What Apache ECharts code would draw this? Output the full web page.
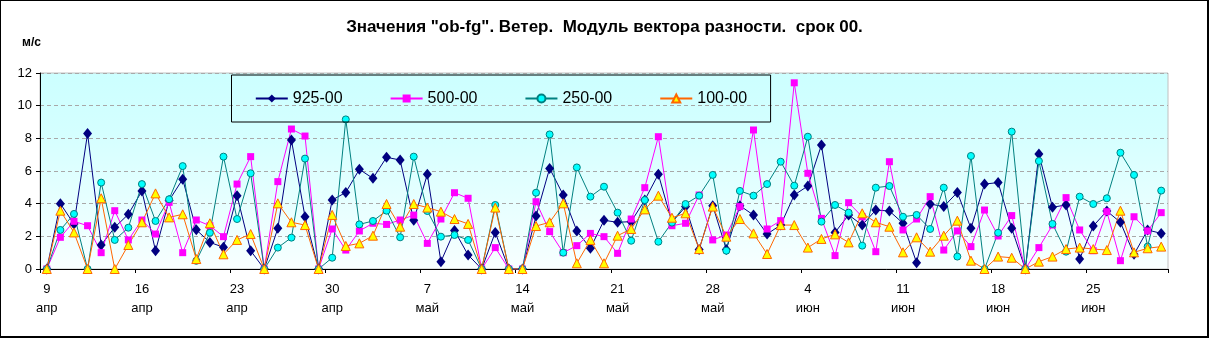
<!DOCTYPE html>
<html>
<head>
<meta charset="utf-8">
<script src="https://cdn.jsdelivr.net/npm/echarts@6/dist/echarts.min.js"></script>
<style>
  html, body { margin: 0; padding: 0; background: #fff; }
  #wrap { position: relative; width: 1209px; height: 338px; }
  #chart { width: 1209px; height: 338px; }
  #frame { position: absolute; left: 0; top: 0; width: 1209px; height: 338px; box-sizing: border-box;
           border-left: 1px solid #000; border-top: 1px solid #000; border-right: 2px solid #000; border-bottom: 2px solid #000;
           pointer-events: none; }
</style>
</head>
<body>
<div id="wrap"><div id="chart"></div><div id="frame"></div></div>
<script>
const titleText = 'Значения "ob-fg". Ветер.  Модуль вектора разности.  срок 00.';
const unitLabel = 'м/с';
const seriesNames = ['925-00', '500-00', '250-00', '100-00'];

const categories = [
  '9 апр','10 апр','11 апр','12 апр','13 апр','14 апр','15 апр','16 апр','17 апр','18 апр','19 апр',
  '20 апр','21 апр','22 апр','23 апр','24 апр','25 апр','26 апр','27 апр','28 апр','29 апр','30 апр',
  '1 май','2 май','3 май','4 май','5 май','6 май','7 май','8 май','9 май','10 май','11 май','12 май',
  '13 май','14 май','15 май','16 май','17 май','18 май','19 май','20 май','21 май','22 май','23 май',
  '24 май','25 май','26 май','27 май','28 май','29 май','30 май','31 май',
  '1 июн','2 июн','3 июн','4 июн','5 июн','6 июн','7 июн','8 июн','9 июн','10 июн','11 июн','12 июн',
  '13 июн','14 июн','15 июн','16 июн','17 июн','18 июн','19 июн','20 июн','21 июн','22 июн','23 июн',
  '24 июн','25 июн','26 июн','27 июн','28 июн','29 июн','30 июн'
];

const yTicks = [0, 2, 4, 6, 8, 10, 12];

const v925 = [
  0, 4.0, 2.75, 8.3, 1.47, 2.55, 3.35, 4.78, 1.12, 4.2, 5.5, 2.4, 1.63, 1.33,
  4.49, 1.12, 0, 2.49, 7.9, 3.2, 0, 4.22, 4.69, 6.1, 5.55, 6.84, 6.67, 2.98,
  5.8, 0.45, 2.35, 0.86, 0, 2.24, 0, 0, 3.24, 6.16, 4.53, 2.33, 1.27, 2.98,
  2.86, 2.9, 4.22, 5.8, 2.86, 3.82, 1.2, 3.88, 1.2, 3.88, 3.3, 2.14, 2.69, 4.53,
  5.08, 7.59, 2.24, 3.31, 2.69, 3.61, 3.55, 2.8, 0.39, 3.98, 3.82, 4.69, 2.49, 5.2,
  5.29, 2.49, 0, 7.04, 3.78, 3.92, 0.61, 2.63, 3.55, 2.86, 0.9, 2.39, 2.18
];
const v500 = [
  0, 1.94, 2.92, 2.65, 1.0, 3.57, 1.78, 3.0, 2.14, 4.08, 1.0, 3.0, 2.65, 1.98,
  5.2, 6.88, 0, 5.35, 8.57, 8.14, 0, 2.45, 1.16, 2.33, 2.8, 2.73, 3.0, 3.3,
  1.57, 3.06, 4.67, 4.33, 0, 1.31, 0, 0, 4.12, 2.29, 1.0, 1.43, 2.18, 1.98,
  0.96, 3.06, 4.98, 8.1, 2.65, 2.8, 4.53, 1.78, 2.08, 3.82, 8.51, 2.45, 2.96, 11.4,
  5.86, 3.1, 0.82, 4.06, 3.2, 1.06, 6.57, 2.39, 3.06, 4.43, 1.16, 2.33, 1.37, 3.61,
  2.02, 3.27, 0, 1.31, 2.69, 4.37, 2.39, 1.12, 3.51, 0.51, 3.2, 2.33, 3.45
];
const v250 = [
  0, 2.39, 3.37, 0, 5.29, 1.78, 2.53, 5.2, 2.94, 4.27, 6.3, 0.5, 2.22, 6.88,
  3.06, 5.86, 0, 1.31, 1.92, 6.76, 0, 0.69, 9.16, 2.73, 2.94, 3.57, 1.94, 6.88,
  3.55, 1.98, 2.08, 1.78, 0, 3.92, 0, 0, 4.67, 8.24, 1.0, 6.22, 4.43, 5.04,
  3.45, 1.73, 4.22, 1.67, 2.84, 3.98, 4.49, 5.76, 1.12, 4.78, 4.49, 5.2, 6.57, 5.1,
  8.1, 2.9, 3.92, 3.45, 1.43, 4.98, 5.08, 3.2, 3.31, 2.45, 4.98, 0.76, 6.92, 0,
  2.22, 8.41, 0, 6.61, 2.76, 1.06, 4.43, 3.98, 4.33, 7.12, 5.76, 1.37, 4.8
];
const v100 = [
  0, 3.57, 2.24, 0, 4.33, 0, 1.47, 2.86, 4.63, 3.16, 3.35, 0.61, 2.8, 0.9,
  1.78, 2.14, 0, 4.02, 2.86, 2.69, 0, 3.31, 1.41, 1.57, 2.04, 3.98, 2.59, 3.98,
  3.76, 3.51, 3.06, 2.76, 0, 3.76, 0, 0, 2.63, 2.86, 4.02, 0.35, 1.78, 0.35,
  2.04, 2.45, 3.65, 4.49, 3.14, 3.41, 1.22, 3.82, 1.98, 3.06, 2.18, 0.92, 2.69, 2.69,
  1.31, 1.84, 2.12, 1.63, 3.41, 2.86, 2.59, 1.02, 1.94, 1.06, 2.04, 2.96, 0.51, 0,
  0.76, 0.69, 0, 0.45, 0.76, 1.22, 1.31, 1.22, 1.16, 3.57, 1.02, 1.27, 1.37
];

const FONT = "'Liberation Sans', Arial, sans-serif";
const chart = echarts.init(document.getElementById('chart'), null, { renderer: 'canvas' });

function lineSeries(name, data, lineColor, symbol, size, fill, border) {
  return {
    name: name, type: 'line', data: data,
    symbol: symbol, symbolSize: size, showAllSymbol: true,
    lineStyle: { color: lineColor, width: 1 },
    itemStyle: { color: fill, borderColor: border, borderWidth: border ? 1 : 0 },
    emphasis: { disabled: true },
    animation: false
  };
}

chart.setOption({
  animation: false,
  backgroundColor: '#ffffff',
  title: {
    text: titleText, left: 'center', top: 19, padding: 0,
    textStyle: { fontFamily: FONT, fontSize: 17, fontWeight: 'bold', color: '#000' }
  },
  graphic: [{
    type: 'text', left: 22, top: 37,
    style: { text: unitLabel, font: "bold 12px 'Liberation Sans', Arial, sans-serif", fill: '#000' }
  }],
  legend: {
    data: seriesNames,
    left: 231.5, top: 75,
    padding: [15.5, 23.5, 15.5, 23.3],
    borderColor: '#000', borderWidth: 1,
    itemWidth: 32, itemHeight: 10, itemGap: 47,
    textStyle: { fontFamily: FONT, fontSize: 16, color: '#000', lineHeight: 16 }
  },
  grid: {
    left: 40, right: 41, top: 73, bottom: 69,
    show: true, borderColor: '#c0c0c0', borderWidth: 1,
    backgroundColor: new echarts.graphic.LinearGradient(0, 0, 0, 1, [
      { offset: 0, color: '#ccffff' },
      { offset: 0.3, color: '#d4ffff' },
      { offset: 1, color: '#f8ffff' }
    ])
  },
  xAxis: {
    type: 'category', data: categories, boundaryGap: true,
    axisLine: { lineStyle: { color: '#000', width: 1 } },
    axisTick: { show: true, interval: 6, length: 4, lineStyle: { color: '#000' } },
    axisLabel: {
      interval: 6, margin: 11, color: '#000', fontFamily: FONT, fontSize: 13, lineHeight: 19,
      formatter: function (v) { return v.split(' ').join('\n'); }
    },
    splitLine: { show: false }
  },
  yAxis: {
    type: 'value', min: yTicks[0], max: yTicks[yTicks.length - 1], interval: 2,
    axisLine: { show: true, lineStyle: { color: '#000', width: 1 } },
    axisTick: { show: true, length: 4, lineStyle: { color: '#000' } },
    axisLabel: { margin: 8, color: '#000', fontFamily: FONT, fontSize: 13 },
    splitLine: { show: true, lineStyle: { color: '#a8a8a8', type: [4, 3], width: 1 } }
  },
  series: [
    lineSeries(seriesNames[0], v925, '#000080', 'diamond', [9, 11], '#000080', null),
    lineSeries(seriesNames[1], v500, '#ff00ff', 'rect', 7, '#ff00ff', null),
    lineSeries(seriesNames[2], v250, '#008080', 'circle', 7, '#00ffff', '#008080'),
    lineSeries(seriesNames[3], v100, '#ff6600', 'triangle', 9, '#ffff00', '#ff6600')
  ]
});
</script>
</body>
</html>
